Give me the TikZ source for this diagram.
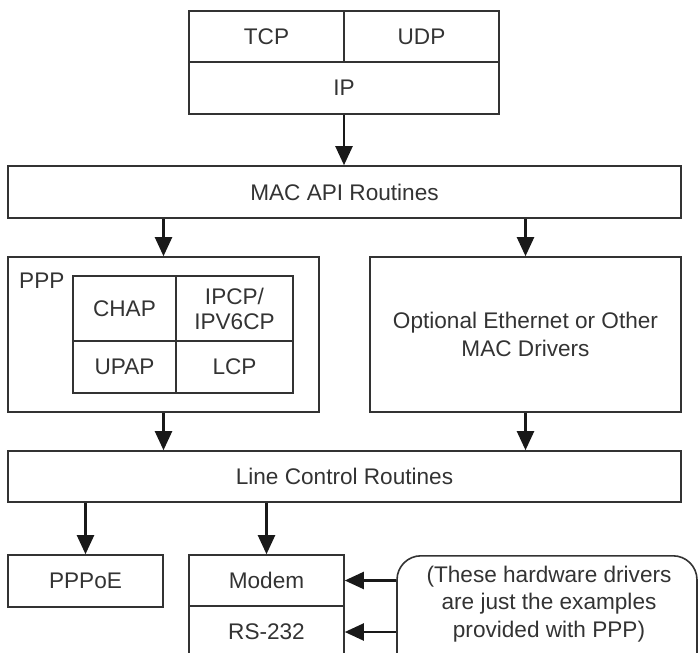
\documentclass[tikz,border=0pt]{standalone}
\usepackage{fontspec}
\setmainfont{Liberation Sans}
\usetikzlibrary{arrows.meta, positioning}

\begin{document}
\begin{tikzpicture}[
    x=1pt, y=-1pt,
    box/.style={rectangle, draw=black!80, line width=1.6pt, inner sep=0pt, align=center, text=black!80, font=\fontsize{22.6}{27.5}\selectfont},
    label text/.style={inner sep=0pt, align=center, text=black!80, font=\fontsize{22.6}{27.5}\selectfont},
    note/.style={box, rounded corners=24pt},
    flow/.style={draw=black!90, line width=2.2pt, -{Triangle[length=19pt, width=17pt]}}
]
\useasboundingbox (0,0) rectangle (699,653);
\clip (0,0) rectangle (699,653);
% transport and network layers
\node[box, minimum width=155pt, minimum height=51pt] (tcp) at (266.5,36.5) {TCP};
\node[box, minimum width=155pt, minimum height=51pt] (udp) at (421.5,36.5) {UDP};
\node[box, minimum width=310pt, minimum height=52pt] (ip) at (344,88) {IP};
\node[box, minimum width=673pt, minimum height=52pt] (mac) at (344.5,192) {MAC API Routines};
% PPP and other MAC drivers
\node[box, minimum width=311pt, minimum height=155pt] (ppp) at (163.5,334.5) {};
\node[label text, anchor=north west] (ppplabel) at (19,273) {PPP};
\node[box, minimum width=103pt, minimum height=65pt] (chap) at (124.5,308.5) {CHAP};
\node[box, minimum width=117pt, minimum height=65pt, font=\fontsize{22.6}{25}\selectfont] (ipcp) at (234.5,308.5) {IPCP/\\IPV6CP};
\node[box, minimum width=103pt, minimum height=52pt] (upap) at (124.5,367) {UPAP};
\node[box, minimum width=117pt, minimum height=52pt] (lcp) at (234.5,367) {LCP};
\node[box, minimum width=311pt, minimum height=155pt] (drivers) at (525.5,334.5) {Optional Ethernet or Other\\MAC Drivers};
\node[box, minimum width=673pt, minimum height=51pt] (lcr) at (344.5,476.5) {Line Control Routines};
% hardware drivers
\node[box, minimum width=155pt, minimum height=52pt] (pppoe) at (85.5,581) {PPPoE};
\node[box, minimum width=155pt, minimum height=51pt] (modem) at (266.5,580.5) {Modem};
\node[box, minimum width=155pt, minimum height=52pt] (rs232) at (266.5,632) {RS-232};
\node[note, minimum width=300pt, minimum height=150pt, anchor=north] (note) at (547,555) {};
\node[label text] (notetext) at (549,604) {(These hardware drivers\\are just the examples\\provided with PPP)};
% connectors
\draw[flow] (ip.south) -- (ip.south |- mac.north);
\draw[flow] (mac.south -| ppp.north) -- (ppp.north);
\draw[flow] (mac.south -| drivers.north) -- (drivers.north);
\draw[flow] (ppp.south) -- (ppp.south |- lcr.north);
\draw[flow] (drivers.south) -- (drivers.south |- lcr.north);
\draw[flow] (lcr.south -| pppoe.north) -- (pppoe.north);
\draw[flow] (lcr.south -| modem.north) -- (modem.north);
\draw[flow] (note.west |- modem.east) -- (modem.east);
\draw[flow] (note.west |- rs232.east) -- (rs232.east);
\end{tikzpicture}
\end{document}
